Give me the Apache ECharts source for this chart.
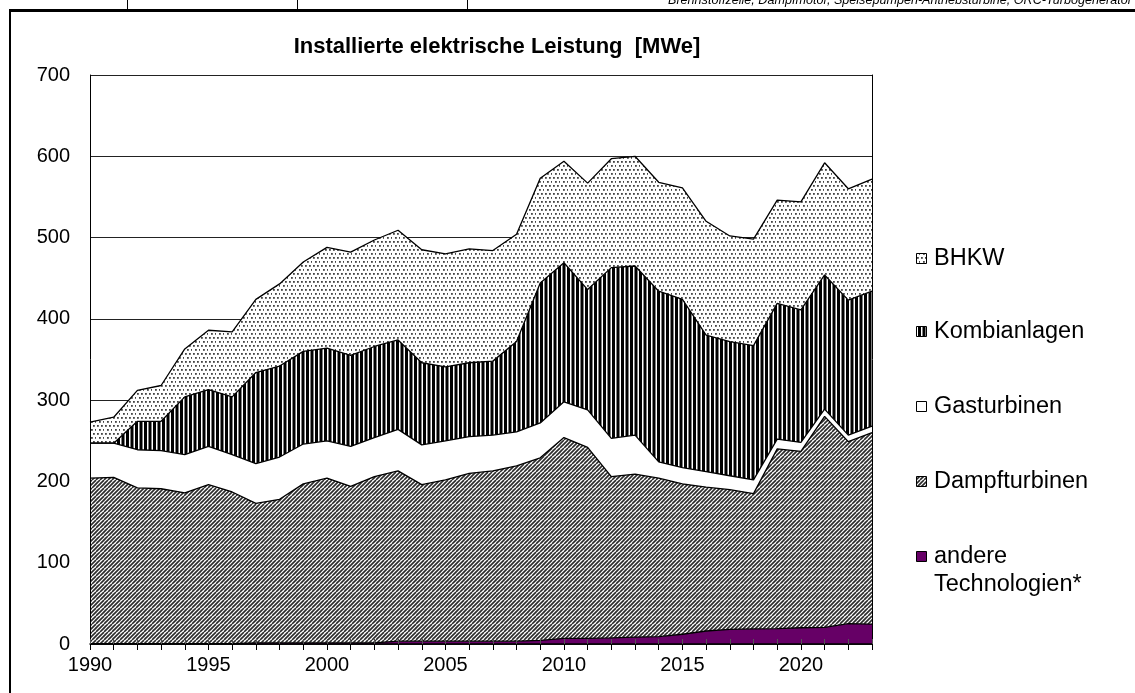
<!DOCTYPE html>
<html>
<head>
<meta charset="utf-8">
<script src="https://cdn.jsdelivr.net/npm/echarts@6/dist/echarts.min.js"></script>
<style>
  html, body { margin: 0; padding: 0; background: #fff; }
  #chart { width: 1135px; height: 693px; }
</style>
</head>
<body>
<div id="chart"></div>
<script>
// Installed electrical capacity by technology, MWe, 1990-2023
const years = ['1990','1991','1992','1993','1994','1995','1996','1997','1998','1999',
               '2000','2001','2002','2003','2004','2005','2006','2007','2008','2009',
               '2010','2011','2012','2013','2014','2015','2016','2017','2018','2019',
               '2020','2021','2022','2023'];

const andere = [0.5,0.5,0.5,0.5,0.5,0.5,0.5,1.5,1.5,1.5,
                1.5,1.5,1.5,3.5,3.5,3.5,3.5,3.5,3.5,4.5,
                7,7,7.5,8.5,9,12,16,18,18.5,19,
                20,20.5,25,24.5];
const dampfturbinen = [203.5,204.5,191.5,190.5,185.5,195.5,186.5,171.5,176.5,195.5,
                       202.5,192.5,204.5,209.5,192.5,198.5,206.5,209.5,215.5,224.5,
                       247,235,198.5,200.5,195,185,177,172,166.5,221,
                       217,259.5,224,235.5];
const gasturbinen = [43,42,47,47,47,47,46,49,52,49,
                     46,49,48,51,49,48,45,44,42,43,
                     44,46,47,48,20,20,19,17,17,12,
                     11,9,8,8];
const kombianlagen = [0,0,35,36,71,70,71,112,112,114,
                      114,112,112,110,101,91,91,91,111,172,
                      171,148,210,208,210,207,168,165,165,167,
                      163,165,166,166];
const bhkw = [26,32,38,44,59,73,80,90,101,110,
              124,127,131,135,139,139,140,136,132,129,
              125,131,134,135,134,137,140,130,131,127,
              133,138,137,138];

const yTicks = { min: 0, max: 700, step: 100 };

const FONT = '"Liberation Sans", Arial, sans-serif';

// ---- fill patterns ----
function tile(w, h, draw) {
  const c = document.createElement('canvas');
  c.width = w; c.height = h;
  const g = c.getContext('2d');
  g.fillStyle = '#fff';
  g.fillRect(0, 0, w, h);
  draw(g);
  return c;
}
const dotTile = tile(8, 8, g => {
  g.fillStyle = '#444';
  [[1,1],[5,1],[3,5],[7,5]].forEach(p => g.fillRect(p[0], p[1], 1.8, 1.8));
});
const stripeTile = tile(9, 4, g => {
  g.fillStyle = '#000';
  g.fillRect(0, 0, 3, 4);
  g.fillRect(4.5, 0, 3, 4);
});
const hatchTile = tile(8, 8, g => {
  g.strokeStyle = '#2a2a2a';
  g.lineWidth = 1.6;
  for (let k = -8; k <= 16; k += 4) {
    g.beginPath();
    g.moveTo(k, 8);
    g.lineTo(k + 8, 0);
    g.stroke();
  }
});
const pat = c => ({ image: c, repeat: 'repeat' });

const fills = {
  'andere Technologien*': '#660066',
  'Dampfturbinen': pat(hatchTile),
  'Gasturbinen': '#ffffff',
  'Kombianlagen': pat(stripeTile),
  'BHKW': pat(dotTile)
};

function areaSeries(name, data) {
  return {
    name: name,
    type: 'line',
    stack: 'total',
    data: data,
    symbol: 'none',
    silent: true,
    lineStyle: { color: '#000', width: 1.3 },
    areaStyle: { color: fills[name], opacity: 1 },
    emphasis: { disabled: true }
  };
}

// ---- legend drawn as graphics ----
const legendItems = [
  { name: 'BHKW', lines: ['BHKW'], y: 259 },
  { name: 'Kombianlagen', lines: ['Kombianlagen'], y: 332 },
  { name: 'Gasturbinen', lines: ['Gasturbinen'], y: 407 },
  { name: 'Dampfturbinen', lines: ['Dampfturbinen'], y: 482 },
  { name: 'andere Technologien*', lines: ['andere', 'Technologien*'], y: 557 }
];
const legendGraphics = [];
legendItems.forEach(it => {
  legendGraphics.push({
    type: 'rect',
    shape: { x: 916.5, y: it.y - 5.5, width: 10, height: 10 },
    style: { fill: fills[it.name], stroke: '#000', lineWidth: 1 },
    silent: true
  });
  it.lines.forEach((t, i) => {
    legendGraphics.push({
      type: 'text',
      x: 934, y: it.y + i * 28,
      style: { text: t, font: '23.5px ' + FONT, fill: '#000', textVerticalAlign: 'middle', textAlign: 'left' },
      silent: true
    });
  });
});

// ---- page frame and header strip ----
const frameGraphics = [
  { type: 'line', shape: { x1: 10, y1: 9, x2: 10, y2: 693 }, style: { stroke: '#000', lineWidth: 2 }, silent: true },
  { type: 'line', shape: { x1: 9, y1: 10.5, x2: 1135, y2: 10.5 }, style: { stroke: '#000', lineWidth: 3 }, silent: true },
  { type: 'line', shape: { x1: 127.5, y1: 0, x2: 127.5, y2: 10 }, style: { stroke: '#000', lineWidth: 1 }, silent: true },
  { type: 'line', shape: { x1: 297.5, y1: 0, x2: 297.5, y2: 10 }, style: { stroke: '#000', lineWidth: 1 }, silent: true },
  { type: 'line', shape: { x1: 467.5, y1: 0, x2: 467.5, y2: 10 }, style: { stroke: '#000', lineWidth: 1 }, silent: true },
  {
    type: 'text', x: 668, y: 7,
    style: { text: 'Brennstoffzelle, Dampfmotor, Speisepumpen-Antriebsturbine, ORC-Turbogenerator',
             font: 'italic 12.6px ' + FONT, fill: '#000', textVerticalAlign: 'bottom', textAlign: 'left' },
    silent: true
  },
  {
    type: 'text', x: 497, y: 47,
    style: { text: 'Installierte elektrische Leistung  [MWe]', font: 'bold 22px ' + FONT,
             fill: '#000', textAlign: 'center', textVerticalAlign: 'middle' },
    silent: true
  }
];

const chart = echarts.init(document.getElementById('chart'), null, { renderer: 'canvas' });
chart.setOption({
  animation: false,
  backgroundColor: '#fff',
  grid: { left: 90, right: 263, top: 75, bottom: 49 },
  xAxis: [
    {
      type: 'category', data: years, boundaryGap: false, z: 10,
      axisLine: { show: true, lineStyle: { color: '#000', width: 1.5 } },
      axisTick: { show: true, interval: 0, length: 6, lineStyle: { color: '#000' } },
      axisLabel: { interval: 4, fontSize: 20, fontFamily: FONT, color: '#000', margin: 11 },
      splitLine: { show: false }
    },
    {
      type: 'category', data: years, boundaryGap: false, z: 10, position: 'bottom',
      axisLine: { show: false },
      axisTick: { show: true, inside: true, interval: 0, length: 5, lineStyle: { color: '#555' } },
      axisLabel: { show: false },
      splitLine: { show: false }
    }
  ],
  yAxis: [
    {
      type: 'value', min: yTicks.min, max: yTicks.max, interval: yTicks.step,
      axisLine: { show: false }, axisTick: { show: false },
      axisLabel: { fontSize: 20, fontFamily: FONT, color: '#000', margin: 20 },
      splitLine: { show: true, lineStyle: { color: '#222', width: 1 } }
    },
    {
      type: 'value', min: yTicks.min, max: yTicks.max, interval: yTicks.step, position: 'left', z: 10,
      axisLine: { show: true, lineStyle: { color: '#000', width: 1 } },
      axisTick: { show: false }, axisLabel: { show: false }, splitLine: { show: false }
    },
    {
      type: 'value', min: yTicks.min, max: yTicks.max, interval: yTicks.step, position: 'right', z: 10,
      axisLine: { show: true, lineStyle: { color: '#000', width: 1 } },
      axisTick: { show: false }, axisLabel: { show: false }, splitLine: { show: false }
    }
  ],
  series: [
    areaSeries('andere Technologien*', andere),
    areaSeries('Dampfturbinen', dampfturbinen),
    areaSeries('Gasturbinen', gasturbinen),
    areaSeries('Kombianlagen', kombianlagen),
    areaSeries('BHKW', bhkw)
  ],
  graphic: frameGraphics.concat(legendGraphics)
});
</script>
</body>
</html>
